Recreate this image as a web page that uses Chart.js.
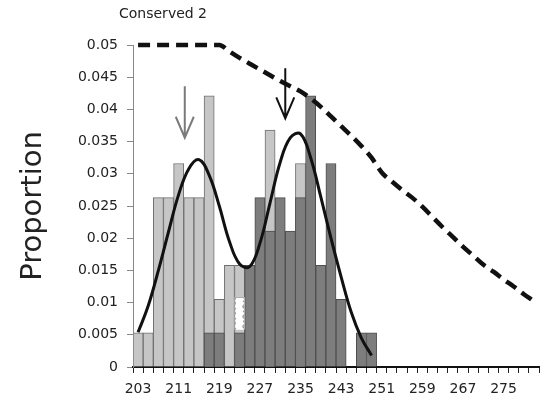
<!DOCTYPE html>
<html>
<head>
<meta charset="utf-8">
<script src="https://cdn.jsdelivr.net/npm/chart.js@4"></script>
<style>
  html, body { margin: 0; padding: 0; background: #fff; }
  #wrap { width: 542px; height: 414px; position: relative; }
</style>
</head>
<body>
<div id="wrap"><canvas id="chart"></canvas></div>
<script>
// Length bins (2 bp wide), labelled every 4th bin
const BIN_STARTS = [203, 205, 207, 209, 211, 213, 215, 217, 219, 221,
                    223, 225, 227, 229, 231, 233, 235, 237, 239, 241,
                    243, 245, 247, 249, 251, 253, 255, 257, 259, 261,
                    263, 265, 267, 269, 271, 273, 275, 277, 279, 281];

// Light gray histogram (first group)
const LIGHT_SHARE = [0.0053, 0.0053, 0.0263, 0.0263, 0.0316, 0.0263, 0.0263, 0.0421, 0.0105, 0.0158,
                     0.0158, null, null, 0.0368, null, null, 0.0316, null, null, null,
                     null, null, null, null, null, null, null, null, null, null,
                     null, null, null, null, null, null, null, null, null, null];

// Dark gray histogram (second group), drawn in front of the light one
const DARK_SHARE = [null, null, null, null, null, null, null, 0.0053, 0.0053, null,
                    0.0053, 0.0158, 0.0263, 0.0211, 0.0263, 0.0211, 0.0263, 0.0421, 0.0158, 0.0316,
                    0.0105, null, 0.0053, 0.0053, null, null, null, null, null, null,
                    null, null, null, null, null, null, null, null, null, null];

// Hatched segment in bin 223
const HATCH_SHARE = [null, null, null, null, null, null, null, null, null, null,
                     [0.0058, 0.0108], null, null, null, null, null, null, null, null, null,
                     null, null, null, null, null, null, null, null, null, null,
                     null, null, null, null, null, null, null, null, null, null];

// Fitted two-component density
const FIT_CURVE = [0.0054, 0.0095, 0.0150, 0.0210, 0.0268, 0.0308, 0.0322, 0.0298, 0.0250, 0.0195,
                   0.0160, 0.0156, 0.0192, 0.0255, 0.0318, 0.0356, 0.0362, 0.0325, 0.0264, 0.0200,
                   0.0140, 0.0085, 0.0045, 0.0018, null, null, null, null, null, null,
                   null, null, null, null, null, null, null, null, null, null];

// Threshold curve (dashed)
const CUTOFF = [0.05, 0.05, 0.05, 0.05, 0.05, 0.05, 0.05, 0.05, 0.05, 0.0490,
                0.0480, 0.0471, 0.0462, 0.0453, 0.0444, 0.0436, 0.0428, 0.0417, 0.0404, 0.0389,
                0.0374, 0.0359, 0.0343, 0.0325, 0.0302, 0.0288, 0.0275, 0.0263, 0.0249, 0.0233,
                0.0217, 0.0202, 0.0187, 0.0173, 0.0159, 0.0148, 0.0136, 0.0125, 0.0113, 0.0102];

// Mode arrows: bin position, shaft top, tip
const ARROW_AT = [4.6, 14.5];
const ARROW_FROM = [0.0436, 0.0464];
const ARROW_TO = [0.0356, 0.0386];

const TITLE = 'Conserved 2';
const FONT = '"DejaVu Sans", sans-serif';

// little white tile with gray squiggles for the hatched segment
function hatchPattern() {
    const c = document.createElement('canvas');
    c.width = 10; c.height = 10;
    const g = c.getContext('2d');
    g.fillStyle = '#fff';
    g.fillRect(0, 0, 10, 10);
    g.strokeStyle = '#9a9a9a';
    g.lineWidth = 1.5;
    g.beginPath();
    g.moveTo(3, 1); g.quadraticCurveTo(7, 3, 4, 5); g.quadraticCurveTo(1, 7, 6, 9);
    g.stroke();
    return g.createPattern(c, 'repeat');
}

const markers = {
    id: 'markers',
    afterDatasetsDraw(chart) {
        const { ctx, chartArea } = chart;
        const x = chart.scales.x, y = chart.scales.y;
        ctx.save();
        ctx.lineWidth = 2;
        ARROW_AT.forEach((v, i) => {
            const px = x.getPixelForValue(v);
            const top = y.getPixelForValue(ARROW_FROM[i]);
            const tip = y.getPixelForValue(ARROW_TO[i]);
            ctx.strokeStyle = i === 0 ? '#7a7a7a' : '#111';
            ctx.beginPath();
            ctx.moveTo(px, top);
            ctx.lineTo(px, tip);
            ctx.moveTo(px - 9, tip - 21);
            ctx.lineTo(px, tip);
            ctx.lineTo(px + 9, tip - 21);
            ctx.stroke();
        });
        ctx.fillStyle = '#222';
        ctx.font = '14px ' + FONT;
        ctx.textBaseline = 'middle';
        ctx.fillText(TITLE, chartArea.left - 14, 14);
        ctx.restore();
    }
};

new Chart(document.getElementById('chart'), {
    type: 'bar',
    data: {
        labels: BIN_STARTS,
        datasets: [
            {
                type: 'line', data: FIT_CURVE, order: 0,
                borderColor: '#111', borderWidth: 3, tension: 0.4,
                pointRadius: 0, spanGaps: false, clip: false
            },
            {
                type: 'line', data: CUTOFF, order: 1,
                borderColor: '#111', borderWidth: 4.5, borderDash: [12, 7],
                cubicInterpolationMode: 'monotone', pointRadius: 0, clip: false
            },
            {
                data: HATCH_SHARE, order: 2, grouped: false,
                backgroundColor: hatchPattern(), borderColor: '#b0b0b0', borderWidth: 1,
                barPercentage: 1, categoryPercentage: 1
            },
            {
                data: DARK_SHARE, order: 3, grouped: false,
                backgroundColor: '#7d7d7d', borderColor: '#4e4e4e', borderWidth: 1,
                barPercentage: 1, categoryPercentage: 1
            },
            {
                data: LIGHT_SHARE, order: 4, grouped: false,
                backgroundColor: '#c6c6c6', borderColor: '#707070', borderWidth: 1,
                barPercentage: 1, categoryPercentage: 1
            }
        ]
    },
    options: {
        responsive: true,
        maintainAspectRatio: false,
        animation: false,
        layout: { padding: { top: 45, right: 1, bottom: 0, left: 0 } },
        plugins: {
            legend: { display: false },
            tooltip: { enabled: false }
        },
        scales: {
            x: {
                type: 'category',
                offset: true,
                afterFit: (scale) => { scale.height = 47; },
                grid: { drawOnChartArea: false, drawTicks: true, tickLength: 6, color: '#222', offset: true },
                border: { color: '#111', width: 2 },
                ticks: {
                    autoSkip: false, maxRotation: 0, minRotation: 0, padding: 8,
                    color: '#222', font: { family: FONT, size: 14 },
                    callback: (v, i) => (i % 4 === 0 ? BIN_STARTS[i] : '')
                }
            },
            y: {
                min: 0, max: 0.05,
                afterFit: (scale) => { scale.width = 133; },
                grid: { drawOnChartArea: false, drawTicks: true, tickLength: 6, color: '#888' },
                border: { color: '#888', width: 1 },
                ticks: {
                    stepSize: 0.005, padding: 9, color: '#222',
                    font: { family: FONT, size: 14 },
                    callback: (v) => String(+v.toFixed(3))
                },
                title: {
                    display: true, text: 'Proportion', color: '#222',
                    font: { family: FONT, size: 29 },
                    padding: { top: 16, bottom: 0 }
                }
            }
        }
    },
    plugins: [markers]
});
</script>
</body>
</html>
